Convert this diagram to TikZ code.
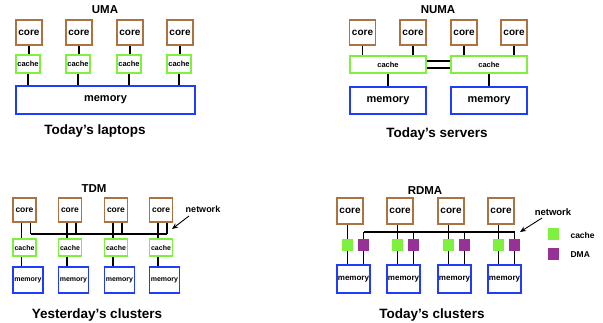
\documentclass[tikz,border=0pt]{standalone}
\usepackage{fontspec}
\setmainfont{Liberation Sans}
\usetikzlibrary{arrows.meta,calc}
\definecolor{coreC}{RGB}{170,115,65}
\definecolor{cacheC}{RGB}{128,240,64}
\definecolor{memC}{RGB}{30,60,250}
\definecolor{dmaC}{RGB}{150,50,150}
\newcommand{\fs}[1]{\bfseries\fontsize{#1}{#1}\selectfont}
\begin{document}
\begin{tikzpicture}[x=1pt,y=-1pt,
  box/.style={draw,line width=1.7pt,fill=white,inner sep=0pt},
  corebox/.style={box,draw=coreC,minimum width=26pt,minimum height=25pt,font=\fs{10}},
  cachebox/.style={box,draw=cacheC,minimum width=24pt,minimum height=18pt,font=\fs{7.5}},
  membox/.style={box,draw=memC,font=\fs{11}},
  sq/.style={inner sep=0pt,minimum width=11pt,minimum height=12pt},
  wire/.style={line width=1.6pt,black},
  arr/.style={line width=0.9pt,-{Stealth[length=6pt,width=5pt]}},
  ttl/.style={font=\fs{11.5},anchor=base},
  capt/.style={font=\fs{13.5},anchor=base},
]
\useasboundingbox (0,0) rectangle (603,323);

% ---------------- UMA ----------------
\node[ttl] (uttl) at (105,14) {UMA};
\node[membox,minimum width=179pt,minimum height=28pt] (um) at (105.5,100) {memory};
\foreach \x [count=\i] in {29,79,130,180} {
  \node[corebox] (uc\i) at (\x,32.5) {core};
  \node[cachebox] (uk\i) at (\x-1,64) {cache};
  \draw[wire] (uc\i.south) -- (uc\i.south |- uk\i.north);
  \draw[wire] (uk\i.south) -- (uk\i.south |- um.north);
}
\node[capt] (ucap) at (95,135) {Today’s laptops};

% ---------------- NUMA ----------------
\node[ttl] (nttl) at (438,14) {NUMA};
\node[cachebox,minimum width=76pt,minimum height=17pt] (nkL) at (388,64.5) {cache};
\node[cachebox,minimum width=76pt,minimum height=17pt] (nkR) at (489,64.5) {cache};
\node[membox,minimum width=76pt,minimum height=27pt] (nmL) at (388,100.5) {memory};
\node[membox,minimum width=76pt,minimum height=27pt] (nmR) at (489,100.5) {memory};
\foreach \x [count=\i] in {362.5,413,464,514} {
  \node[corebox] (nc\i) at (\x,32.5) {core};
}
\foreach \i in {1,2} {\draw[wire] (nc\i.south) -- (nc\i.south |- nkL.north);}
\foreach \i in {3,4} {\draw[wire] (nc\i.south) -- (nc\i.south |- nkR.north);}
\draw[wire] ([yshift=3.5pt]nkL.east) -- ([yshift=3.5pt]nkR.west);
\draw[wire] ([yshift=-3.5pt]nkL.east) -- ([yshift=-3.5pt]nkR.west);
\draw[wire] (nkL.south) -- (nmL.north);
\draw[wire] (nkR.south) -- (nmR.north);
\node[capt] (ncap) at (437,138) {Today’s servers};

% ---------------- TDM ----------------
\node[ttl] (tttl) at (94,193) {TDM};
\foreach \x [count=\i] in {24.5,70,116,161} {
  \node[corebox,minimum width=23pt,minimum height=24pt,font=\fs{8.5}] (tc\i) at (\x,210) {core};
  \node[cachebox,minimum width=23pt,minimum height=17pt,font=\fs{7}] (tk\i) at (\x,247.5) {cache};
  \node[membox,minimum width=30pt,minimum height=26pt,font=\fs{7}] (tm\i) at (\x+3.5,280) {memory};
  \coordinate (tb\i) at (\x+6,234);
  \draw[wire] ([xshift=-3pt]tc\i.south) -- ([xshift=-3pt]tc\i.south |- tk\i.north);
  \draw[wire] ([xshift=-3pt]tk\i.south) -- ([xshift=-3pt]tk\i.south |- tm\i.north);
  \draw[wire] ([xshift=6pt]tc\i.south) -- (tb\i);
}
\draw[wire] (tb1) -- (tb4);
\node[font=\fs{9}] (tnet) at (203,209) {network};
\coordinate (tarS) at (189,216);
\coordinate (tarE) at (172,229);
\draw[arr] (tarS) -- (tarE);
\node[capt] (tcap) at (97,319) {Yesterday’s clusters};

% ---------------- RDMA ----------------
\node[ttl] (rttl) at (425,195) {RDMA};
\foreach \x [count=\i] in {350,400,451,501} {
  \node[corebox,minimum height=26pt] (rc\i) at (\x,211) {core};
  \node[sq,fill=cacheC] (rg\i) at (\x-2.5,245) {};
  \node[sq,fill=dmaC] (rp\i) at (\x+13.5,245) {};
  \node[membox,minimum width=33pt,minimum height=28pt,font=\fs{8}] (rm\i) at (\x+3.5,279) {memory};
  \coordinate (rb\i) at (\x+13.5,232);
  \draw[wire] (rg\i.north |- rc\i.south) -- (rg\i.north);
  \draw[wire] (rg\i.south) -- (rg\i.south |- rm\i.north);
  \draw[wire] (rp\i.north) -- (rb\i);
  \draw[wire] (rp\i.south) -- (rp\i.south |- rm\i.north);
}
\draw[wire] (rb1) -- (rb4);
\node[font=\fs{9.5}] (rnet) at (553,212) {network};
\coordinate (rarS) at (542,218);
\coordinate (rarE) at (520,232);
\draw[arr] (rarS) -- (rarE);
\node[sq,fill=cacheC] (lg) at (553.5,234) {};
\node[sq,fill=dmaC] (lp) at (553.5,254.5) {};
\node[font=\fs{8.5},anchor=west] (lgt) at (567,235) {cache};
\node[font=\fs{8.5},anchor=west] (lpt) at (567,255) {DMA};
\node[capt] (rcap) at (432,319) {Today’s clusters};
\end{tikzpicture}
\end{document}
